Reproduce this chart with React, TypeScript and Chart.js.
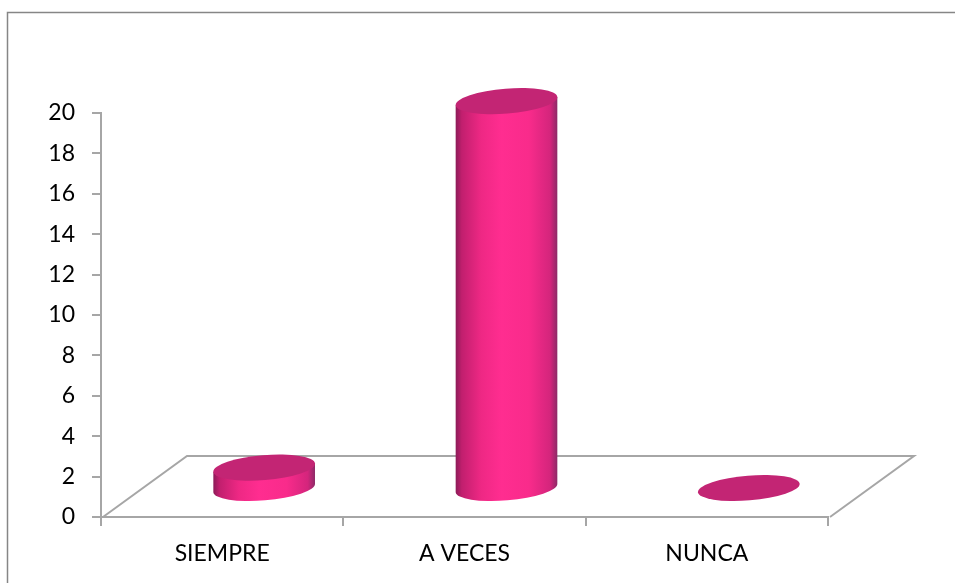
import React, { useEffect, useRef } from "react";
import { Chart, registerables } from "chart.js";

Chart.register(...registerables);

const categories = ["SIEMPRE", "A VECES", "NUNCA"];
const values = [1, 19, 0];
const yMax = 20;
const yStep = 2;

const axisColor = "#a6a6a6";
const frameColor = "#868686";
const capColor = "#c32574";
const fontFamily = "Lato, 'Open Sans', sans-serif";

const floorDx = 84;
const floorDy = -61;
const rx = 51;
const ry = 12.4;
const tilt = (-4.7 * Math.PI) / 180;
const depthScale = 1.008;

const cylinderPlugin = {
  id: "cylinders",
  beforeDraw(chart: any) {
    const { ctx, width, height } = chart;
    ctx.save();
    ctx.fillStyle = "#ffffff";
    ctx.fillRect(0, 0, width, height);
    ctx.strokeStyle = frameColor;
    ctx.lineWidth = 1.5;
    ctx.beginPath();
    ctx.moveTo(7.5, height);
    ctx.lineTo(7.5, 12.5);
    ctx.lineTo(width, 12.5);
    ctx.stroke();
    ctx.restore();
  },
  beforeDatasetsDraw(chart: any) {
    const { ctx, chartArea: a } = chart;
    ctx.save();
    ctx.strokeStyle = axisColor;
    ctx.lineWidth = 2;
    ctx.beginPath();
    ctx.moveTo(a.left + 2, a.bottom);
    ctx.lineTo(a.left + 2 + floorDx, a.bottom + floorDy);
    ctx.lineTo(a.right + 2 + floorDx, a.bottom + floorDy);
    ctx.lineTo(a.right + 2, a.bottom);
    ctx.stroke();
    ctx.restore();
  },
  afterDatasetsDraw(chart: any) {
    const { ctx } = chart;
    const meta = chart.getDatasetMeta(0);
    const yScale = chart.scales.y;
    const dx = floorDx / 2;
    const dy = floorDy / 2 + 1.5;
    meta.data.forEach((bar: any, i: number) => {
      const cx = bar.x + dx;
      const zero = yScale.getPixelForValue(0);
      const baseY = zero + dy;
      const topY = baseY - (zero - yScale.getPixelForValue(values[i])) * depthScale;
      const ex = rx * Math.cos(tilt);
      const ey = rx * Math.sin(tilt);
      ctx.save();
      if (values[i] > 0) {
        const g = ctx.createLinearGradient(cx - ex, 0, cx + ex, 0);
        g.addColorStop(0, "#8c1b58");
        g.addColorStop(0.06, "#c11f6e");
        g.addColorStop(0.25, "#ee2884");
        g.addColorStop(0.45, "#ff2d90");
        g.addColorStop(0.72, "#f92b8b");
        g.addColorStop(0.93, "#d4257c");
        g.addColorStop(1, "#8d2a67");
        ctx.fillStyle = g;
        ctx.beginPath();
        ctx.moveTo(cx - ex, topY - ey);
        ctx.lineTo(cx - ex, baseY - ey);
        ctx.ellipse(cx, baseY, rx, ry, tilt, Math.PI, 0, true);
        ctx.lineTo(cx + ex, topY + ey);
        ctx.closePath();
        ctx.fill();
      }
      ctx.fillStyle = capColor;
      ctx.beginPath();
      ctx.ellipse(cx, topY, rx, ry, tilt, 0, Math.PI * 2);
      ctx.fill();
      ctx.restore();
    });
  },
};

export default function App() {
  const ref = useRef<HTMLCanvasElement | null>(null);

  useEffect(() => {
    if (!ref.current) return;
    const chart = new Chart(ref.current, {
      type: "bar",
      data: {
        labels: categories,
        datasets: [
          {
            data: values,
            backgroundColor: "rgba(0,0,0,0)",
            borderWidth: 0,
          },
        ],
      },
      options: {
        animation: false,
        responsive: false,
        devicePixelRatio: 1,
        layout: { padding: { left: 0, top: 113, right: 127, bottom: 0 } },
        plugins: { legend: { display: false }, tooltip: { enabled: false } },
        scales: {
          x: {
            afterFit(scale: any) {
              scale.height = 66;
            },
            border: { display: true, color: axisColor, width: 2 },
            grid: {
              offset: true,
              drawOnChartArea: false,
              drawTicks: true,
              tickLength: 9,
              color: axisColor,
              lineWidth: 2,
            },
            ticks: {
              color: "#000000",
              padding: 14,
              maxRotation: 0,
              font: { family: fontFamily, size: 23 },
            },
          },
          y: {
            min: 0,
            max: yMax,
            afterFit(scale: any) {
              scale.width = 101;
            },
            border: { display: true, color: axisColor, width: 2 },
            grid: {
              drawOnChartArea: false,
              drawTicks: true,
              tickLength: 9,
              color: axisColor,
              lineWidth: 2,
            },
            ticks: {
              stepSize: yStep,
              color: "#000000",
              padding: 17,
              font: { family: fontFamily, size: 23 },
            },
          },
        },
      },
      plugins: [cylinderPlugin],
    } as any);
    return () => chart.destroy();
  }, []);

  return (
    <canvas
      ref={ref}
      width={955}
      height={583}
      style={{ position: "fixed", left: 0, top: 0, display: "block" }}
    />
  );
}
